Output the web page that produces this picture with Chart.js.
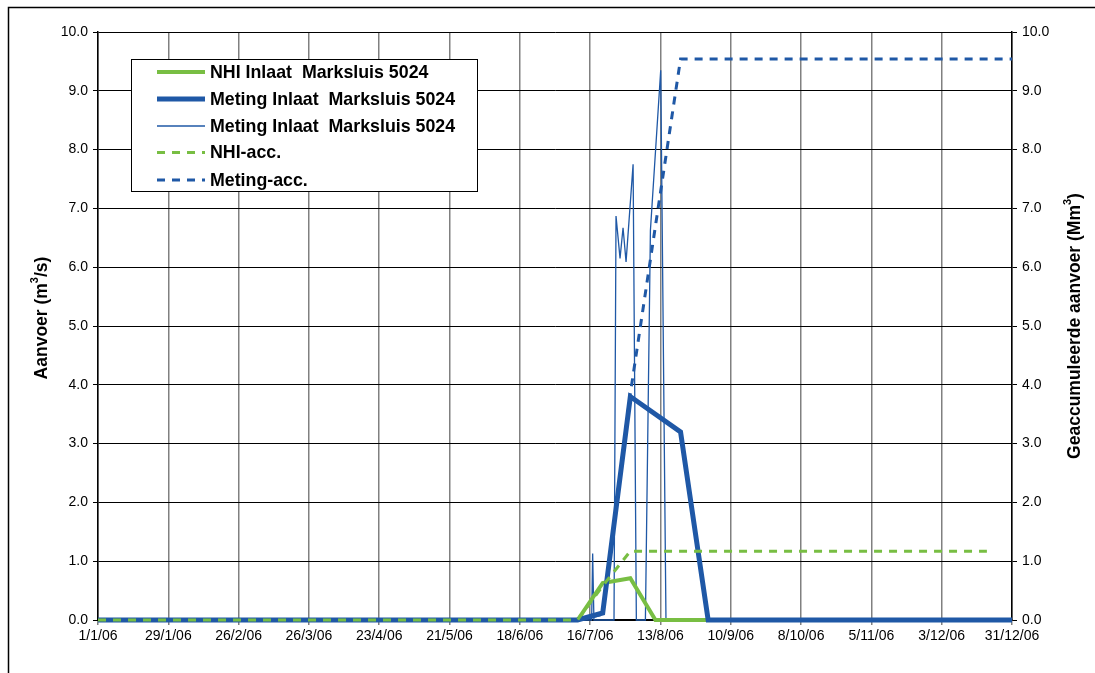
<!DOCTYPE html>
<html lang="nl">
<head>
<meta charset="UTF-8">
<title>Aanvoer Marksluis 5024</title>
<script src="https://cdn.jsdelivr.net/npm/chart.js@4.4.1/dist/chart.umd.min.js"></script>
<style>
  * { box-sizing: border-box; margin: 0; padding: 0; }
  html, body { width: 1095px; height: 673px; overflow: hidden; background: #fff; }
  .chart-container { position: relative; width: 1095px; height: 673px; }
</style>
</head>
<body>
<div class="chart-container">
  <canvas id="chart"></canvas>
</div>
<script>
  // x-as labels (om de 28 dagen)
  const tickLabels = ['1/1/06','29/1/06','26/2/06','26/3/06','23/4/06','21/5/06','18/6/06',
                      '16/7/06','13/8/06','10/9/06','8/10/06','5/11/06','3/12/06','31/12/06'];

  // decaden: 1e, 11e en 21e van elke maand, plus de laatste dag
  const decadeStartDays = [1, 11, 21];
  const lastDate = '31/12/06';

  // decadewaarden (m3/s), per maand drie waarden, laatste = 31/12
  const nhiInlaat = [
    0, 0, 0,   0, 0, 0,   0, 0, 0,   0, 0, 0,   0, 0, 0,   0, 0, 0,
    0, 0, 0.63,   0.71, 0, 0,   0, 0, 0,   0, 0, 0,   0, 0, 0,   0, 0, 0,
    0
  ];
  const metingInlaat = [
    0, 0, 0,   0, 0, 0,   0, 0, 0,   0, 0, 0,   0, 0, 0,   0, 0, 0,
    0, 0, 0.12,   3.8, 3.5, 3.2,   0, 0, 0,   0, 0, 0,   0, 0, 0,   0, 0, 0,
    0
  ];

  // geaccumuleerd (Mm3)
  const nhiAcc = [
    0, 0, 0,   0, 0, 0,   0, 0, 0,   0, 0, 0,   0, 0, 0,   0, 0, 0,
    0, 0, 0.58,   1.17, 1.17, 1.17,   1.17, 1.17, 1.17,   1.17, 1.17, 1.17,
    1.17, 1.17, 1.17,   1.17, 1.17, 1.17,
    null
  ];
  const metingAcc = [
    0, 0, 0,   0, 0, 0,   0, 0, 0,   0, 0, 0,   0, 0, 0,   0, 0, 0,
    0, 0, 0.1,   3.85, 6.7, 9.54,   9.54, 9.54, 9.54,   9.54, 9.54, 9.54,
    9.54, 9.54, 9.54,   9.54, 9.54, 9.54,
    9.54
  ];

  // losse metingen (dag van het jaar, m3/s)
  const metingDagDays   = [0, 196.6, 197.0, 197.5, 205.5, 206.3, 207.9, 209.1, 210.3, 213.1, 214.4, 218.0, 220.0, 224.1, 226.2, 364];
  const metingDagValues = [0, 0,     1.13,  0,     0,     6.87,  6.15,  6.67,  6.09,  7.75,  0,     0,     6.63,  9.35,  0,     0];

  const GREEN = '#78BE43';
  const BLUE = '#1F58A6';

  function dayOfYear(label) {
    const [d, m] = label.split('/').map(Number);
    return (Date.UTC(2006, m - 1, d) - Date.UTC(2006, 0, 1)) / 86400000;
  }

  const decadeLabels = [];
  for (let m = 1; m <= 12; m++) decadeStartDays.forEach(d => decadeLabels.push(d + '/' + m + '/06'));
  decadeLabels.push(lastDate);
  const decadeX = decadeLabels.map(dayOfYear);
  const tickX = tickLabels.map(dayOfYear);

  const toPoints = (xs, ys) => xs.map((x, i) => ({ x: x, y: ys[i] }));

  const legendItems = [
    { text: 'NHI Inlaat  Marksluis 5024', color: GREEN, width: 4, dash: [] },
    { text: 'Meting Inlaat  Marksluis 5024', color: BLUE, width: 5, dash: [] },
    { text: 'Meting Inlaat  Marksluis 5024', color: BLUE, width: 1.3, dash: [] },
    { text: 'NHI-acc.', color: GREEN, width: 3, dash: [8, 7] },
    { text: 'Meting-acc.', color: BLUE, width: 3, dash: [8, 7] }
  ];

  // tekst met superscript tekenen (as-titels)
  function drawRich(ctx, parts, cx, cy, size) {
    const normal = 'bold ' + size + 'px Arial, "Liberation Sans", sans-serif';
    const small = 'bold ' + Math.round(size * 0.65) + 'px Arial, "Liberation Sans", sans-serif';
    let total = 0;
    parts.forEach(p => { ctx.font = p.sup ? small : normal; total += ctx.measureText(p.t).width; });
    ctx.save();
    ctx.translate(cx, cy);
    ctx.rotate(-Math.PI / 2);
    ctx.fillStyle = '#000';
    ctx.textBaseline = 'middle';
    ctx.textAlign = 'left';
    let x = -total / 2;
    parts.forEach(p => {
      ctx.font = p.sup ? small : normal;
      ctx.fillText(p.t, x, p.sup ? -size * 0.38 : 0);
      x += ctx.measureText(p.t).width;
    });
    ctx.restore();
  }

  const frameAndLabels = {
    id: 'frameAndLabels',
    beforeDraw(chart) {
      const ctx = chart.ctx;
      ctx.save();
      ctx.fillStyle = '#fff';
      ctx.fillRect(0, 0, chart.width, chart.height);
      ctx.strokeStyle = '#000';
      ctx.lineWidth = 1.5;
      ctx.beginPath();
      ctx.moveTo(8.5, chart.height);
      ctx.lineTo(8.5, 7.5);
      ctx.lineTo(chart.width, 7.5);
      ctx.stroke();
      ctx.restore();
    },
    afterDraw(chart) {
      const ctx = chart.ctx;
      const area = chart.chartArea;
      const midY = (area.top + area.bottom) / 2;

      drawRich(ctx, [{ t: 'Aanvoer (m' }, { t: '3', sup: true }, { t: '/s)' }], 42, midY - 8, 17.5);
      drawRich(ctx, [{ t: 'Geaccumuleerde aanvoer (Mm' }, { t: '3', sup: true }, { t: ')' }], 1075, midY, 17.5);

      // legenda
      ctx.save();
      ctx.fillStyle = '#fff';
      ctx.fillRect(131.5, 59.5, 346, 132);
      ctx.strokeStyle = '#000';
      ctx.lineWidth = 1;
      ctx.strokeRect(131.5, 59.5, 346, 132);
      const rows = [72, 99, 126, 152.5, 180];
      legendItems.forEach((item, i) => {
        ctx.beginPath();
        ctx.setLineDash(item.dash);
        ctx.strokeStyle = item.color;
        ctx.lineWidth = item.width;
        ctx.moveTo(157, rows[i]);
        ctx.lineTo(205, rows[i]);
        ctx.stroke();
        ctx.setLineDash([]);
        ctx.fillStyle = '#000';
        ctx.font = 'bold 17.8px Arial, "Liberation Sans", sans-serif';
        ctx.textBaseline = 'middle';
        ctx.fillText(item.text, 210, rows[i] + 1);
      });
      ctx.restore();
    }
  };

  const tickFont = { family: 'Arial, "Liberation Sans", sans-serif', size: 14 };

  const chart = new Chart(document.getElementById('chart'), {
    type: 'line',
    data: {
      datasets: [
        {
          label: 'NHI Inlaat  Marksluis 5024',
          data: toPoints(decadeX, nhiInlaat),
          borderColor: GREEN,
          borderWidth: 4,
          yAxisID: 'y',
          order: 4
        },
        {
          label: 'Meting Inlaat  Marksluis 5024',
          data: toPoints(decadeX, metingInlaat),
          borderColor: BLUE,
          borderWidth: 5,
          yAxisID: 'y',
          order: 3
        },
        {
          label: 'Meting Inlaat  Marksluis 5024 (dag)',
          data: toPoints(metingDagDays, metingDagValues),
          borderColor: BLUE,
          borderWidth: 1.3,
          yAxisID: 'y',
          order: 5
        },
        {
          label: 'NHI-acc.',
          data: toPoints(decadeX, nhiAcc),
          borderColor: GREEN,
          borderWidth: 3,
          borderDash: [8, 7],
          yAxisID: 'y2',
          order: 1
        },
        {
          label: 'Meting-acc.',
          data: toPoints(decadeX, metingAcc),
          borderColor: BLUE,
          borderWidth: 3,
          borderDash: [8, 7],
          yAxisID: 'y2',
          order: 2
        }
      ]
    },
    options: {
      responsive: true,
      maintainAspectRatio: false,
      animation: false,
      layout: { padding: { top: 32, left: 0, right: 0, bottom: 0 } },
      elements: {
        point: { radius: 0, hoverRadius: 0 },
        line: { tension: 0, borderCapStyle: 'butt', borderJoinStyle: 'miter' }
      },
      datasets: { line: { clip: false, spanGaps: false } },
      plugins: {
        legend: { display: false },
        tooltip: { enabled: false }
      },
      scales: {
        x: {
          type: 'linear',
          min: 0,
          max: 364,
          afterBuildTicks: s => { s.ticks = tickX.map(v => ({ value: v })); },
          afterFit: s => { s.height = 53; },
          ticks: {
            callback: (v, i) => tickLabels[i],
            autoSkip: false,
            maxRotation: 0,
            color: '#000',
            font: tickFont,
            padding: 3
          },
          grid: { color: '#808080', lineWidth: 1.5, tickLength: 5 },
          border: { color: '#000', width: 1.5 }
        },
        y: {
          position: 'left',
          min: 0,
          max: 10,
          afterFit: s => { s.width = 98; },
          ticks: {
            stepSize: 1,
            callback: v => v.toFixed(1),
            color: '#000',
            font: tickFont,
            padding: 5
          },
          grid: { color: '#000', lineWidth: 1, tickLength: 5 },
          border: { color: '#000', width: 1.5 }
        },
        y2: {
          position: 'right',
          min: 0,
          max: 10,
          afterFit: s => { s.width = 83; },
          ticks: {
            stepSize: 1,
            callback: v => v.toFixed(1),
            color: '#000',
            font: tickFont,
            padding: 5
          },
          grid: { drawOnChartArea: false, color: '#000', tickLength: 5 },
          border: { color: '#000', width: 1.5 }
        }
      }
    },
    plugins: [frameAndLabels]
  });
</script>
</body>
</html>
